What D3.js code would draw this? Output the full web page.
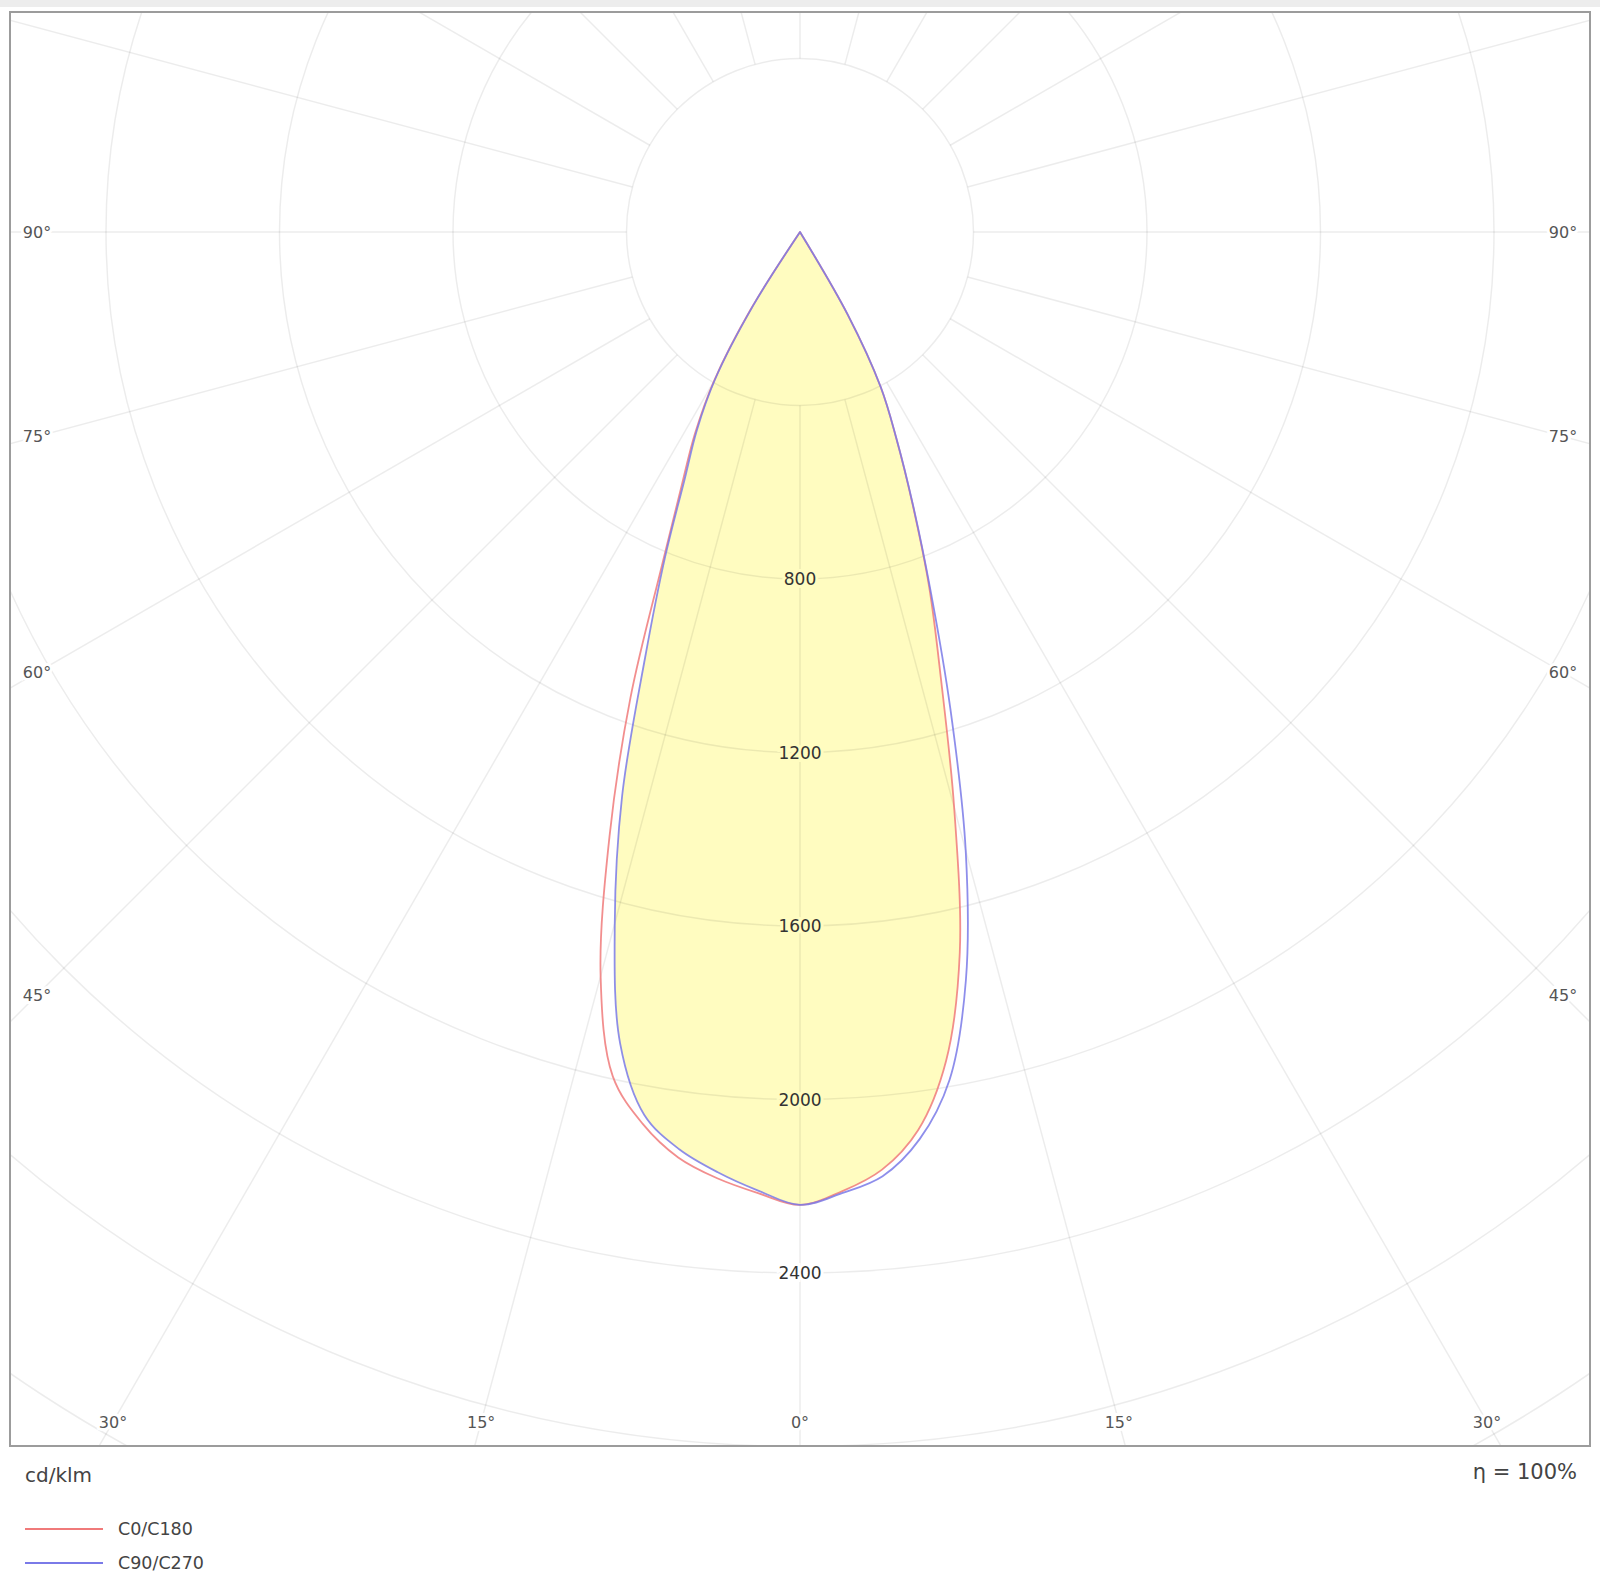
<!DOCTYPE html>
<html>
<head>
<meta charset="utf-8">
<script src="https://cdn.jsdelivr.net/npm/d3@7"></script>
<style>
  html, body { margin: 0; padding: 0; background: #fff; }
  svg { display: block; font-family: "DejaVu Sans", Verdana, sans-serif; }
</style>
</head>
<body>
<svg id="ldc" width="1600" height="1590"></svg>
<script>
"use strict";

// gamma angles in degrees from nadir (0 = straight down)
const gammaAngles = [0, 2.5, 5, 7.5, 10, 12.5, 15, 17.5, 20, 22.5, 25, 27.5, 30, 32.5, 35, 40, 45, 50, 55, 60, 65, 70, 75, 80, 85, 90];

// luminous intensity, cd/klm
// C0/C180 plane - red. C0 on the right half, C180 on the left half
const c0   = [2243, 2214, 2170, 2088, 1940, 1702, 1373, 1081, 871, 677, 526, 403, 220, 0, 0, 0, 0, 0, 0, 0, 0, 0, 0, 0, 0, 0];
const c180 = [2243, 2218, 2190, 2152, 2088, 1994, 1776, 1460, 1143, 831, 646, 525, 396, 210, 0, 0, 0, 0, 0, 0, 0, 0, 0, 0, 0, 0];
// C90/C270 plane - blue. C90 on the right half, C270 on the left half
const c90  = [2243, 2218, 2185, 2110, 1985, 1767, 1476, 1153, 880, 680, 527, 403, 220, 0, 0, 0, 0, 0, 0, 0, 0, 0, 0, 0, 0, 0];
const c270 = [2243, 2212, 2176, 2133, 2067, 1916, 1650, 1364, 1044, 815, 630, 515, 390, 200, 0, 0, 0, 0, 0, 0, 0, 0, 0, 0, 0, 0];

// grid
const ringValues   = [400, 800, 1200, 1600, 2000, 2400, 2800, 3200, 3600];
const ringLabels   = [800, 1200, 1600, 2000, 2400];
const angleLabels  = [0, 15, 30, 45, 60, 75, 90];
const spokeStep    = 15;

const seriesNames  = ["C0/C180", "C90/C270"];
const seriesColors = ["#f07a7a", "#7a7ae8"];

//-----------------------------------------------------------------------------------
const svg = d3.select("#ldc");
const frame = {x0: 10, y0: 12, x1: 1590, y1: 1446};
const cx = 800, cy = 232;

// 400 cd/klm per ring step
const r = d3.scaleLinear().domain([0, 400]).range([0, 173.5]);
const rad = d => d * Math.PI / 180;

// faint strip at the very top of the image
svg.append("rect")
    .attr("x", 0).attr("y", 0).attr("width", 1600).attr("height", 7)
    .style("fill", "#ededed");

svg.append("defs").append("clipPath").attr("id", "frameClip")
  .append("rect")
    .attr("x", frame.x0).attr("y", frame.y0)
    .attr("width", frame.x1 - frame.x0).attr("height", frame.y1 - frame.y0);

const plot = svg.append("g").attr("clip-path", "url(#frameClip)");
const g = plot.append("g").attr("transform", `translate(${cx},${cy})`);

// closed outline: left half from 90 down to 0, then right half from 0 up to 90
function outline(left, right) {
    const pts = [];
    for (let i = gammaAngles.length - 1; i >= 0; i--) pts.push([Math.PI + rad(gammaAngles[i]), r(left[i])]);
    for (let i = 1; i < gammaAngles.length; i++) pts.push([Math.PI - rad(gammaAngles[i]), r(right[i])]);
    // only keep one point at the centre for each run of zeros
    return pts.filter((p, i) => !(p[1] === 0 && i > 0 && pts[i - 1][1] === 0));
}

const radial = d3.lineRadial()
    .angle(d => d[0])
    .radius(d => d[1])
    .curve(d3.curveCatmullRom.alpha(0.5));

// yellow fill = area inside both curves
const fillLeft  = c180.map((v, i) => Math.min(v, c270[i]));
const fillRight = c0.map((v, i) => Math.min(v, c90[i]));
g.append("path")
    .attr("d", radial(outline(fillLeft, fillRight)) + "Z")
    .style("fill", "#fffcc0")
    .style("stroke", "none");

// rings
g.selectAll(".ring")
  .data(ringValues)
  .enter().append("circle")
    .attr("class", "ring")
    .attr("r", d => r(d))
    .style("fill", "none")
    .style("stroke", "rgba(0,0,0,0.075)")
    .style("stroke-width", 1.5);

// spokes start at the first ring
const spokes = d3.range(0, 360, spokeStep);
g.selectAll(".spoke")
  .data(spokes)
  .enter().append("line")
    .attr("class", "spoke")
    .attr("x1", d => r(ringValues[0]) * Math.sin(rad(d)))
    .attr("y1", d => r(ringValues[0]) * Math.cos(rad(d)))
    .attr("x2", d => r(5000) * Math.sin(rad(d)))
    .attr("y2", d => r(5000) * Math.cos(rad(d)))
    .style("stroke", "rgba(0,0,0,0.075)")
    .style("stroke-width", 1.5);

// curves
const curves = [[c180, c0], [c270, c90]];
curves.forEach((c, i) => {
    g.append("path")
        .attr("d", radial(outline(c[0], c[1])) + "Z")
        .style("fill", "none")
        .style("stroke", seriesColors[i])
        .style("stroke-width", 1.8)
        .style("stroke-opacity", 0.85)
        .style("stroke-linejoin", "round");
});

// ring labels, halo in the colour behind them
g.selectAll(".ringLabel")
  .data(ringLabels)
  .enter().append("text")
    .attr("class", "ringLabel")
    .attr("x", 0)
    .attr("y", d => r(d))
    .attr("text-anchor", "middle")
    .attr("dominant-baseline", "central")
    .style("font-size", "17px")
    .style("fill", "#333")
    .style("paint-order", "stroke")
    .style("stroke", d => d < Math.min(fillLeft[0], fillRight[0]) ? "#fffcc0" : "#fff")
    .style("stroke-width", 6)
    .text(d => d);

// angle labels sit where each spoke meets a box inset from the frame
const inset = {x0: 37, x1: 1563, y1: 1422};
function labelPos(gamma, side) {
    const sx = Math.sin(rad(gamma)), sy = Math.cos(rad(gamma));
    const tx = sx > 1e-6 ? (side < 0 ? (cx - inset.x0) : (inset.x1 - cx)) / sx : Infinity;
    const ty = sy > 1e-6 ? (inset.y1 - cy) / sy : Infinity;
    const t = Math.min(tx, ty);
    return [cx + side * t * sx, cy + t * sy];
}
const angleItems = [];
angleLabels.forEach(a => {
    angleItems.push({a: a, p: labelPos(a, -1)});
    if (a > 0) angleItems.push({a: a, p: labelPos(a, 1)});
});
svg.selectAll(".angleLabel")
  .data(angleItems)
  .enter().append("text")
    .attr("class", "angleLabel")
    .attr("x", d => d.p[0])
    .attr("y", d => d.p[1])
    .attr("text-anchor", "middle")
    .attr("dominant-baseline", "central")
    .style("font-size", "16px")
    .style("fill", "#555")
    .style("paint-order", "stroke")
    .style("stroke", "#fff")
    .style("stroke-width", 6)
    .text(d => d.a + "°");

// frame
svg.append("rect")
    .attr("x", frame.x0).attr("y", frame.y0)
    .attr("width", frame.x1 - frame.x0).attr("height", frame.y1 - frame.y0)
    .style("fill", "none")
    .style("stroke", "#9c9c9c")
    .style("stroke-width", 2);

// units and efficiency
svg.append("text")
    .attr("x", 25).attr("y", 1475)
    .attr("dominant-baseline", "central")
    .style("font-size", "20px").style("fill", "#444")
    .text("cd/klm");
svg.append("text")
    .attr("x", 1577).attr("y", 1472)
    .attr("text-anchor", "end")
    .attr("dominant-baseline", "central")
    .style("font-size", "21px").style("fill", "#444")
    .text("η = 100%");

// legend
const legend = svg.selectAll(".legend")
  .data(seriesNames)
  .enter().append("g")
    .attr("class", "legend")
    .attr("transform", (d, i) => `translate(25,${1529 + i * 34})`);
legend.append("line")
    .attr("x1", 0).attr("x2", 78)
    .style("stroke", (d, i) => seriesColors[i])
    .style("stroke-width", 2);
legend.append("text")
    .attr("x", 93)
    .attr("dominant-baseline", "central")
    .style("font-size", "17.5px").style("fill", "#444")
    .text(d => d);
</script>
</body>
</html>
